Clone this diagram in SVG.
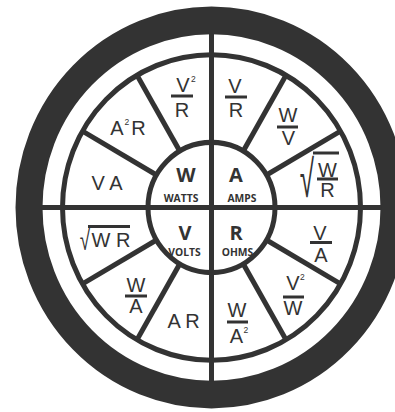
<svg xmlns="http://www.w3.org/2000/svg" width="395" height="412" viewBox="0 0 395 412">
<style>
.ln{stroke:#333;fill:none;stroke-width:5}
.fr{stroke:#333;stroke-width:3}
.t{font-family:"Liberation Sans",Arial,sans-serif;font-size:20px;fill:#333;text-anchor:middle}
.s{font-family:"Liberation Sans",Arial,sans-serif;font-size:8.5px;fill:#333}
.b{font-family:"Open Sans","DejaVu Sans",sans-serif;font-weight:bold;font-size:20px;fill:#333;text-anchor:middle}
.sb{font-family:"Open Sans","DejaVu Sans",sans-serif;font-weight:bold;font-size:10.3px;fill:#333;text-anchor:middle}
.rad{font-family:"Liberation Sans",Arial,sans-serif;fill:#333;text-anchor:middle}
</style>
<rect width="395" height="412" fill="#fff"/>
<g id="connectors" transform="translate(211.5,207.5) scale(1,1.025)">
  <circle r="182.5" fill="none" stroke="#333" stroke-width="27"/>
  <circle r="149" class="ln"/>
  <line x1="0" y1="-170" x2="0" y2="170" class="ln"/>
  <line x1="-170" y1="0" x2="170" y2="0" class="ln"/>
  <g class="ln">
    <line x1="31.75" y1="-55" x2="74.5" y2="-129"/>
    <line x1="55" y1="-31.75" x2="129" y2="-74.5"/>
    <line x1="-31.75" y1="-55" x2="-74.5" y2="-129"/>
    <line x1="-55" y1="-31.75" x2="-129" y2="-74.5"/>
    <line x1="-31.75" y1="55" x2="-74.5" y2="129"/>
    <line x1="-55" y1="31.75" x2="-129" y2="74.5"/>
    <line x1="31.75" y1="55" x2="74.5" y2="129"/>
    <line x1="55" y1="31.75" x2="129" y2="74.5"/>
  </g>
  <circle r="63.5" class="ln" style="fill:#fff"/>
  <line x1="0" y1="-63.5" x2="0" y2="63.5" class="ln"/>
  <line x1="-63.5" y1="0" x2="63.5" y2="0" class="ln"/>
</g>
<g id="watts">
  <text class="b" x="186" y="182">W</text>
  <text class="sb" x="181" y="202">WATTS</text>
</g>
<g id="amps">
  <text class="b" x="236" y="182">A</text>
  <text class="sb" x="242" y="202">AMPS</text>
</g>
<g id="volts">
  <text class="b" x="185" y="240">V</text>
  <text class="sb" x="184.5" y="256">VOLTS</text>
</g>
<g id="ohms">
  <text class="b" x="236" y="240">R</text>
  <text class="sb" x="237.5" y="256">OHMS</text>
</g>
<g id="v2-over-r">
  <text class="t" x="183" y="92">V</text>
  <text class="s" x="191" y="82">2</text>
  <line class="fr" x1="171" y1="96" x2="193" y2="96"/>
  <text class="t" x="182" y="117">R</text>
</g>
<g id="a2r">
  <text class="t" x="117" y="135">A</text>
  <text class="s" x="124.5" y="125">2</text>
  <text class="t" x="138.5" y="135">R</text>
</g>
<g id="va">
  <text class="t" x="107" y="190">V A</text>
</g>
<g id="v-over-r">
  <text class="t" x="235" y="93">V</text>
  <line class="fr" x1="225" y1="97" x2="247" y2="97"/>
  <text class="t" x="236" y="117">R</text>
</g>
<g id="w-over-v">
  <text class="t" x="288" y="122">W</text>
  <line class="fr" x1="277" y1="127" x2="298" y2="127"/>
  <text class="t" x="288.5" y="145">V</text>
</g>
<g id="sqrt-w-over-r">
  <text class="rad" transform="translate(307,197) scale(1,2.0)" font-size="26">√</text>
  <line class="fr" x1="313" y1="153" x2="339" y2="153"/>
  <text class="t" x="327.5" y="177">W</text>
  <line class="fr" x1="317" y1="179" x2="338" y2="179"/>
  <text class="t" x="327.5" y="197">R</text>
</g>
<g id="sqrt-wr">
  <text class="rad" transform="translate(85,250) scale(1,1.5)" font-size="19">√</text>
  <line class="fr" x1="88" y1="226.5" x2="130" y2="226.5"/>
  <text class="t" x="111" y="247">W R</text>
</g>
<g id="w-over-a">
  <text class="t" x="136" y="292">W</text>
  <line class="fr" x1="125" y1="296" x2="147" y2="296"/>
  <text class="t" x="136" y="313">A</text>
</g>
<g id="ar">
  <text class="t" x="183.5" y="328">A R</text>
</g>
<g id="v-over-a">
  <text class="t" x="320" y="240">V</text>
  <line class="fr" x1="310" y1="242.5" x2="332" y2="242.5"/>
  <text class="t" x="321" y="262">A</text>
</g>
<g id="v2-over-w">
  <text class="t" x="293" y="290">V</text>
  <text class="s" x="300" y="280">2</text>
  <line class="fr" x1="283" y1="297" x2="304" y2="297"/>
  <text class="t" x="293" y="315">W</text>
</g>
<g id="w-over-a2">
  <text class="t" x="237" y="317">W</text>
  <line class="fr" x1="227" y1="322" x2="248" y2="322"/>
  <text class="t" x="236.5" y="343">A</text>
  <text class="s" x="243.5" y="333">2</text>
</g>
</svg>
